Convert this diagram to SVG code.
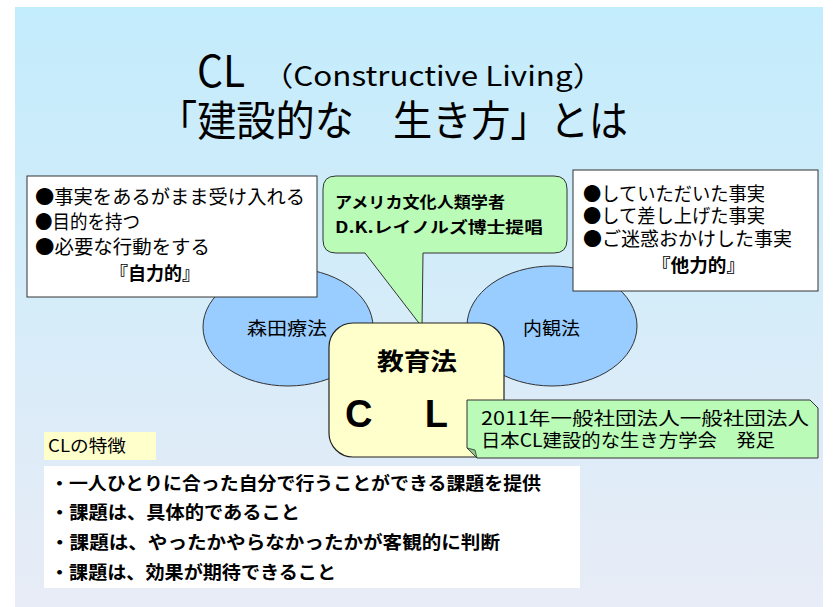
<svg xmlns="http://www.w3.org/2000/svg" width="833" height="607" viewBox="0 0 833 607">
<defs>
<linearGradient id="bg" x1="0" y1="0" x2="0" y2="1">
<stop offset="0" stop-color="#c3ecfc"/>
<stop offset="1" stop-color="#e8ecf6"/>
</linearGradient>
</defs>
<style>
.jp{font-family:"Noto Sans CJK JP","Noto Sans",sans-serif;fill:#000}
.b{font-weight:bold}
.box{fill:#fff;stroke:#333;stroke-width:1}
.ell{fill:#99ccff;stroke:#333;stroke-width:1}
.grn{fill:#bbfbb8;stroke:#333;stroke-width:1}
</style>
<rect x="15" y="7" width="808" height="600" fill="url(#bg)"/>

<g id="title">
<text class="jp" x="197" y="87" font-size="44" textLength="48" lengthAdjust="spacingAndGlyphs">CL</text>
<text class="jp" x="262" y="86" font-size="27" textLength="342" lengthAdjust="spacingAndGlyphs">（Constructive Living）</text>
<text class="jp" x="158" y="136" font-size="42" textLength="470" lengthAdjust="spacingAndGlyphs">「建設的な　生き方」とは</text>
</g>

<g id="morita">
<ellipse class="ell" cx="288" cy="327" rx="85" ry="59"/>
<text class="jp" x="247" y="335" font-size="18" textLength="80" lengthAdjust="spacingAndGlyphs">森田療法</text>
</g>

<g id="naikan">
<ellipse class="ell" cx="552" cy="326" rx="85" ry="60"/>
<text class="jp" x="523" y="335" font-size="18" textLength="57" lengthAdjust="spacingAndGlyphs">内観法</text>
</g>

<g id="jiriki">
<rect class="box" x="27" y="176" width="290" height="121"/>
<text class="jp" x="35" y="204" font-size="19" textLength="270" lengthAdjust="spacingAndGlyphs">●事実をあるがまま受け入れる</text>
<text class="jp" x="35" y="229" font-size="19" textLength="105" lengthAdjust="spacingAndGlyphs">●目的を持つ</text>
<text class="jp" x="35" y="254" font-size="19" textLength="175" lengthAdjust="spacingAndGlyphs">●必要な行動をする</text>
<text class="jp b" x="110" y="280" font-size="18" textLength="90" lengthAdjust="spacingAndGlyphs">『自力的』</text>
</g>

<g id="tariki">
<rect class="box" x="573" y="170" width="245" height="121"/>
<text class="jp" x="583" y="201" font-size="19" textLength="182" lengthAdjust="spacingAndGlyphs">●していただいた事実</text>
<text class="jp" x="583" y="223" font-size="19" textLength="182" lengthAdjust="spacingAndGlyphs">●して差し上げた事実</text>
<text class="jp" x="583" y="246" font-size="19" textLength="209" lengthAdjust="spacingAndGlyphs">●ご迷惑おかけした事実</text>
<text class="jp b" x="652" y="272" font-size="18" textLength="93" lengthAdjust="spacingAndGlyphs">『他力的』</text>
</g>

<g id="callout">
<path class="grn" d="M323,189 Q323,176 336,176 H554 Q567,176 567,189 V240 Q567,253 554,253 H423 L422,327 L365,253 H336 Q323,253 323,240 Z"/>
<text class="jp b" x="335" y="208" font-size="15.5" textLength="170" lengthAdjust="spacingAndGlyphs">アメリカ文化人類学者</text>
<text class="jp b" x="335" y="233" font-size="15.5" textLength="208" lengthAdjust="spacingAndGlyphs">D.K.レイノルズ博士提唱</text>
</g>

<g id="kyoikuho">
<rect x="329" y="323" width="175" height="134" rx="24" fill="#ffffcc" stroke="#222" stroke-width="1.2"/>
<text class="jp b" x="377" y="370" font-size="24" textLength="80" lengthAdjust="spacingAndGlyphs">教育法</text>
<text x="345" y="427" font-family="'Liberation Sans',Arial,sans-serif" font-weight="bold" font-size="38" textLength="103" lengthAdjust="spacing">C L</text>
</g>

<g id="hossoku">
<path class="grn" d="M467,400 H810 L818,408 V458 H477 L467,448 Z"/>
<path d="M467,448 L475,450 L477,458 Z" fill="#8fc98c" stroke="#333" stroke-width="0.8"/>
<text class="jp" x="481" y="425" font-size="18.5" textLength="328" lengthAdjust="spacingAndGlyphs">2011年一般社団法人一般社団法人</text>
<text class="jp" x="481" y="447" font-size="18.5" textLength="294" lengthAdjust="spacingAndGlyphs">日本CL建設的な生き方学会　発足</text>
</g>

<g id="features-label">
<rect x="44" y="432" width="112" height="28" fill="#ffffcc"/>
<text class="jp" x="48" y="452" font-size="17" textLength="78" lengthAdjust="spacingAndGlyphs">CLの特徴</text>
</g>

<g id="features">
<rect x="44" y="466" width="536" height="122" fill="#fff"/>
<text class="jp b" x="50" y="490" font-size="18" textLength="491" lengthAdjust="spacingAndGlyphs">・一人ひとりに合った自分で行うことができる課題を提供</text>
<text class="jp b" x="50" y="519" font-size="18" textLength="250" lengthAdjust="spacingAndGlyphs">・課題は、具体的であること</text>
<text class="jp b" x="50" y="549" font-size="18" textLength="450" lengthAdjust="spacingAndGlyphs">・課題は、やったかやらなかったかが客観的に判断</text>
<text class="jp b" x="50" y="579" font-size="18" textLength="286" lengthAdjust="spacingAndGlyphs">・課題は、効果が期待できること</text>
</g>
</svg>
